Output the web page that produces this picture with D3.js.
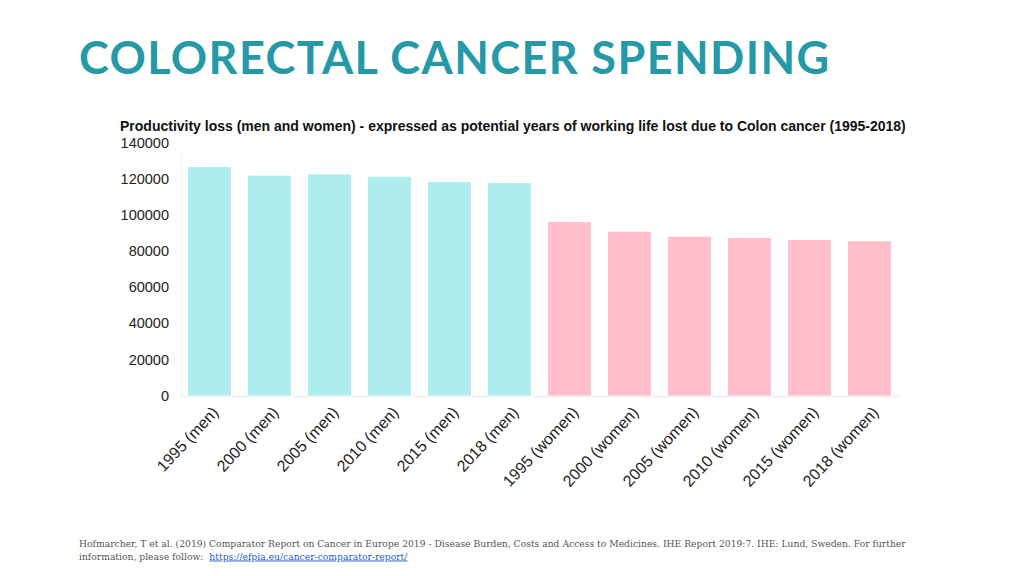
<!DOCTYPE html>
<html><head><meta charset="utf-8">
<script src="https://cdn.jsdelivr.net/npm/d3@7"></script>
<style>
body{margin:0;background:#fff;}
svg{display:block;}
</style></head>
<body>
<svg id="c" width="1024" height="576"></svg>
<script>
const categories = ["1995 (men)","2000 (men)","2005 (men)","2010 (men)","2015 (men)","2018 (men)",
  "1995 (women)","2000 (women)","2005 (women)","2010 (women)","2015 (women)","2018 (women)"];
const values = [126700,121900,122600,121300,118400,117800,96200,90800,88000,87300,86200,85500];
const groups = ["men","men","men","men","men","men","women","women","women","women","women","women"];
const yTicks = [0,20000,40000,60000,80000,100000,120000,140000];

const svg = d3.select("#c");
const colors = {men:"#afeeee", women:"#ffc0cb"};

svg.append("text").attr("x",79).attr("y",74)
  .attr("font-family","Lato").attr("font-weight","bold").attr("font-size",45)
  .attr("letter-spacing",1.4)
  .attr("fill","#2699a8").text("COLORECTAL CANCER SPENDING");

svg.append("text").attr("x",120).attr("y",131)
  .attr("font-family","Liberation Sans, Arial, sans-serif").attr("font-weight","bold").attr("font-size",14)
  .attr("fill","#111").text("Productivity loss (men and women) - expressed as potential years of working life lost due to Colon cancer (1995-2018)");

const x = d3.scaleBand().domain(categories).range([179.5,899.5]).paddingInner(0.283).paddingOuter(0.1415);
const y = d3.scaleLinear().domain([0,140000]).range([395.5,143]);

// axis lines
svg.append("line").attr("x1",181).attr("x2",181).attr("y1",150).attr("y2",396.5).attr("stroke","#eeeeee");
svg.append("line").attr("x1",181).attr("x2",899).attr("y1",396.5).attr("y2",396.5).attr("stroke","#eeeeee").attr("stroke-width",1.5);

svg.append("g").selectAll("rect").data(categories).join("rect")
  .attr("x",d=>x(d)).attr("width",x.bandwidth())
  .attr("y",(d,i)=>y(values[i])).attr("height",(d,i)=>y(0)-y(values[i]))
  .attr("fill",(d,i)=>colors[groups[i]]);

const yAxis = svg.append("g").attr("transform","translate(169,0)")
  .call(d3.axisLeft(y).tickValues(yTicks).tickSize(0).tickPadding(0).tickFormat(d3.format("d")));
yAxis.select(".domain").remove();
yAxis.selectAll("text").attr("font-family","Liberation Sans, Arial, sans-serif").attr("font-size",14.5).attr("fill","#222");

const xAxis = svg.append("g").attr("transform","translate(0,396)")
  .call(d3.axisBottom(x).tickSize(0).tickPadding(0));
xAxis.select(".domain").remove();
xAxis.selectAll("text")
  .attr("font-family","Liberation Sans, Arial, sans-serif").attr("font-size",16).attr("fill","#222")
  .attr("text-anchor","end").attr("dy",0).attr("y",0)
  .attr("transform","translate(10,17) rotate(-47)");

const foot = svg.append("text").attr("font-family","DejaVu Serif, Liberation Serif, serif").attr("font-size",9.2).attr("fill","#555");
foot.append("tspan").attr("x",79).attr("y",546.5)
  .text("Hofmarcher, T et al. (2019) Comparator Report on Cancer in Europe 2019 - Disease Burden, Costs and Access to Medicines. IHE Report 2019:7. IHE: Lund, Sweden. For further");
foot.append("tspan").attr("x",79).attr("y",559.5).text("information, please follow:  ");
foot.append("tspan").attr("dx",3).attr("fill","#1a5fd0").attr("text-decoration","underline").text("https://efpia.eu/cancer-comparator-report/");
</script>
</body></html>
